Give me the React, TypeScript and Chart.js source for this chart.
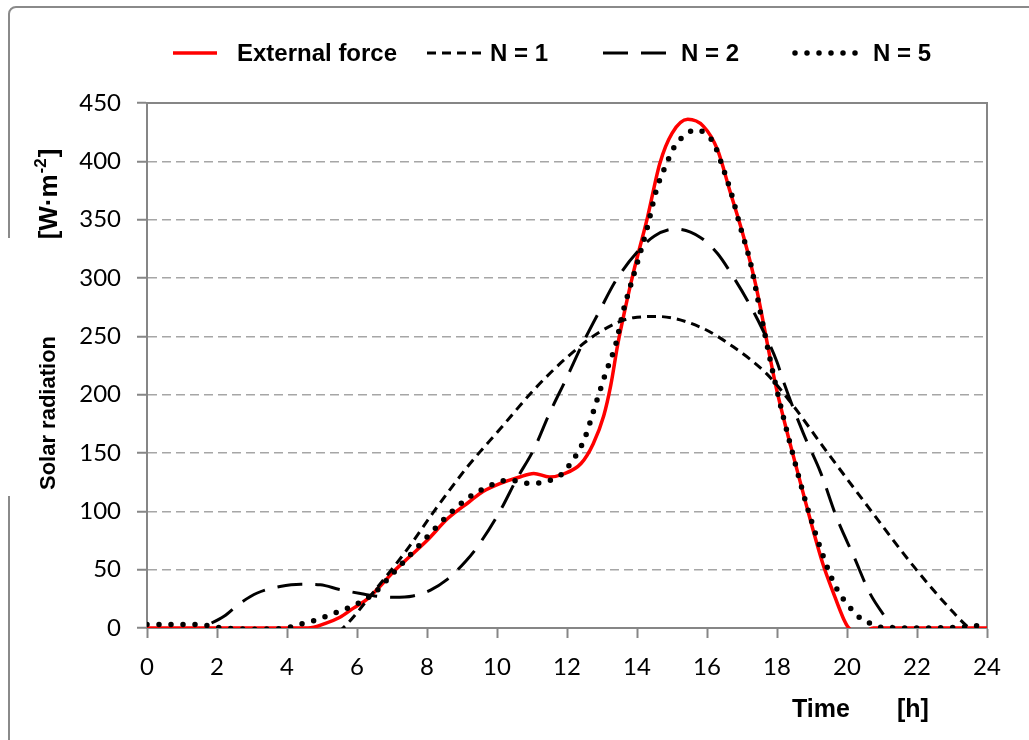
import React, { useEffect, useRef } from 'react';
import { Chart, registerables } from 'chart.js';

Chart.register(...registerables);

// ---- data ----
const seriesLabels = ['External force', 'N = 1', 'N = 2', 'N = 5'];
const xAxisTitle = 'Time';
const xAxisUnit = '[h]';
const yAxisTitle = 'Solar radiation';
const yAxisUnitMain = '[W·m';
const yAxisUnitSup = '-2';
const yAxisUnitEnd = ']';

const xMin = 0;
const xMax = 24;
const xStep = 2;
const yMin = 0;
const yMax = 450;
const yStep = 50;

const extTime = [0, 4.6, 5.1, 5.5, 5.9, 6.3, 6.7, 7.0, 7.5, 8.0, 8.6, 9.2, 9.6, 10.1, 10.6, 11.05, 11.5, 11.9, 12.4, 12.75, 13.05, 13.25, 13.45, 13.65, 13.9, 14.3, 14.65, 15.0, 15.45, 15.9, 16.3, 16.65, 17.05, 17.4, 17.8, 18.0, 18.4, 18.85, 19.3, 19.6, 19.9, 20.05, 20.4, 20.75, 24];
const extValue = [0, 0, 4, 9, 17, 25, 37, 47, 61, 75, 94, 108, 117, 124, 129, 132.5, 129.5, 132, 141, 158, 182, 208, 243, 272, 305, 352, 398, 424, 436, 430, 410, 375, 335, 293, 232, 203, 155, 104, 56, 31, 8, 0, -5, 0, 0];

const n1Time = [4, 5.6, 6.45, 7.45, 8.2, 9.15, 10.1, 11.05, 12, 12.95, 13.9, 14.6, 15.8, 16.75, 17.7, 18.35, 19.45, 20.75, 21.9, 23.05, 23.5, 24];
const n1Value = [-30, 0, 30, 68, 100, 138, 171, 204, 232, 254, 266, 267, 258, 241, 218, 195, 150, 98, 53, 13, 0, -6];

const n2Time = [0, 1.56, 2.2, 2.65, 3.15, 3.8, 4.4, 4.95, 5.5, 6.1, 6.5, 7.05, 7.6, 8.1, 8.55, 9.1, 9.45, 10.1, 10.55, 11.05, 11.5, 12, 12.45, 12.95, 13.4, 14, 14.5, 15.1, 15.8, 16.3, 16.75, 17.15, 17.6, 18, 18.2, 18.75, 19.25, 19.7, 20.2, 20.65, 21.15, 21.32, 22];
const n2Value = [-30, 0, 10, 21, 30, 35.5, 37.5, 37, 33, 29.5, 27.5, 26.3, 27.5, 32.5, 41, 57, 70, 101, 127, 153, 184, 215, 244, 273, 298, 322, 336, 342, 335, 321, 301, 281, 255, 228, 210, 167, 133, 95, 61, 30, 7, 0, -15];

const n5Time = [0, 1.5, 2, 3, 4, 4.2, 4.55, 4.9, 5.2, 5.55, 5.9, 6.2, 6.5, 7, 7.5, 8, 8.65, 9.2, 9.8, 10.35, 10.85, 11.25, 11.55, 11.9, 12.1, 12.3, 12.5, 12.8, 13.1, 13.4, 13.6, 13.75, 14, 14.3, 14.55, 14.8, 15.1, 15.4, 15.65, 15.95, 16.2, 16.45, 16.7, 16.95, 17.25, 17.45, 17.7, 17.95, 18.4, 18.85, 19.4, 19.7, 20.1, 20.4, 20.7, 21, 22, 23, 24];
const n5Value = [3, 3, 0.5, -1, 0, 2, 4.6, 7.5, 11, 15, 19, 24, 30, 46, 62, 78, 98, 112, 122, 127, 124, 124.5, 127, 133, 141, 150, 162, 190, 218, 244, 271, 287, 312, 344, 375, 395, 414, 423, 427, 424, 415, 395, 372, 344, 312, 282, 245, 210, 155, 105, 55, 34, 17, 8, 3.5, 0.5, 0, 0.5, 2.5];

// ---- styles ----
const RED = '#ff0000';
const BLACK = '#000000';
const AXIS_GRAY = '#868686';
const GRID_GRAY = '#a6a6a6';
const FRAME_GRAY = '#8a8a8a';
const TICK_FONT = 'Lato';
const BOLD_FONT = '"Liberation Sans", Arial, sans-serif';

const styles = [
  { color: RED, width: 3.5, dash: [] as number[], cap: 'butt' as CanvasLineCap },
  { color: BLACK, width: 3, dash: [9, 6], cap: 'butt' as CanvasLineCap },
  { color: BLACK, width: 3, dash: [25, 13], cap: 'butt' as CanvasLineCap },
  { color: BLACK, width: 5.5, dash: [0, 12], cap: 'round' as CanvasLineCap },
];

const toPoints = (t: number[], v: number[]) => t.map((x, i) => ({ x, y: v[i] }));

const decorPlugin = {
  id: 'decor',
  beforeDraw(chart: any) {
    const ctx = chart.ctx as CanvasRenderingContext2D;
    ctx.save();
    ctx.fillStyle = '#ffffff';
    ctx.fillRect(0, 0, chart.width, chart.height);
    // outer frame (left side interrupted as in the reference)
    ctx.strokeStyle = FRAME_GRAY;
    ctx.lineWidth = 2;
    ctx.beginPath();
    ctx.moveTo(9, 238);
    ctx.lineTo(9, 14);
    ctx.arcTo(9, 7, 16, 7, 7);
    ctx.lineTo(chart.width + 5, 7);
    ctx.moveTo(9, 496);
    ctx.lineTo(9, chart.height + 5);
    ctx.stroke();
    ctx.restore();
  },
  beforeDatasetsDraw(chart: any) {
    const ctx = chart.ctx as CanvasRenderingContext2D;
    const a = chart.chartArea;
    ctx.save();
    ctx.strokeStyle = AXIS_GRAY;
    ctx.lineWidth = 2;
    ctx.beginPath();
    ctx.moveTo(a.left, a.top);
    ctx.lineTo(a.right, a.top);
    ctx.lineTo(a.right, a.bottom);
    ctx.stroke();
    ctx.restore();
  },
  afterDraw(chart: any) {
    const ctx = chart.ctx as CanvasRenderingContext2D;
    ctx.save();
    // legend
    const legendY = 53;
    const items = [
      { x1: 173, x2: 217, tx: 237 },
      { x1: 427, x2: 482, tx: 490 },
      { x1: 603, x2: 672, tx: 681 },
      { x1: 795, x2: 860, tx: 873 },
    ];
    items.forEach((it, i) => {
      const s = styles[i];
      ctx.save();
      ctx.strokeStyle = s.color;
      ctx.lineWidth = s.width;
      ctx.lineCap = s.cap;
      ctx.setLineDash(s.dash);
      ctx.beginPath();
      ctx.moveTo(it.x1, legendY);
      ctx.lineTo(it.x2, legendY);
      ctx.stroke();
      ctx.restore();
      ctx.fillStyle = BLACK;
      ctx.font = `bold 24px ${BOLD_FONT}`;
      ctx.textAlign = 'left';
      ctx.textBaseline = 'middle';
      ctx.fillText(seriesLabels[i], it.tx, legendY + 1);
    });

    // x axis title
    ctx.fillStyle = BLACK;
    ctx.font = `bold 25px ${BOLD_FONT}`;
    ctx.textAlign = 'left';
    ctx.textBaseline = 'alphabetic';
    ctx.fillText(xAxisTitle, 792, 717);
    ctx.fillText(xAxisUnit, 897, 717);

    // y axis title
    ctx.save();
    ctx.translate(55, 413);
    ctx.rotate(-Math.PI / 2);
    ctx.font = `bold 22px ${BOLD_FONT}`;
    ctx.textAlign = 'center';
    ctx.fillText(yAxisTitle, 0, 0);
    ctx.restore();

    // y axis unit with superscript
    ctx.save();
    ctx.translate(57, 195);
    ctx.rotate(-Math.PI / 2);
    ctx.textAlign = 'left';
    ctx.font = `bold 26px ${BOLD_FONT}`;
    const w1 = ctx.measureText(yAxisUnitMain).width;
    const w3 = ctx.measureText(yAxisUnitEnd).width;
    ctx.font = `bold 17px ${BOLD_FONT}`;
    const w2 = ctx.measureText(yAxisUnitSup).width;
    const start = -(w1 + w2 + w3) / 2;
    ctx.font = `bold 26px ${BOLD_FONT}`;
    ctx.fillText(yAxisUnitMain, start, 0);
    ctx.font = `bold 17px ${BOLD_FONT}`;
    ctx.fillText(yAxisUnitSup, start + w1 + 1, -11);
    ctx.font = `bold 26px ${BOLD_FONT}`;
    ctx.fillText(yAxisUnitEnd, start + w1 + w2 + 2, 0);
    ctx.restore();

    ctx.restore();
  },
};

export default function App() {
  const ref = useRef<HTMLCanvasElement>(null);

  useEffect(() => {
    const canvas = ref.current;
    if (!canvas) return;
    const series = [
      toPoints(extTime, extValue),
      toPoints(n1Time, n1Value),
      toPoints(n2Time, n2Value),
      toPoints(n5Time, n5Value),
    ];
    const orders = [4, 3, 2, 1];
    const chart = new Chart(canvas, {
      type: 'line',
      data: {
        datasets: series.map((data, i) => ({
          label: seriesLabels[i],
          data,
          borderColor: styles[i].color,
          backgroundColor: styles[i].color,
          borderWidth: styles[i].width,
          borderDash: styles[i].dash,
          borderCapStyle: styles[i].cap,
          borderJoinStyle: 'round',
          pointRadius: 0,
          pointHoverRadius: 0,
          fill: false,
          cubicInterpolationMode: 'monotone',
          order: orders[i],
        })),
      },
      options: {
        animation: false,
        responsive: false,
        devicePixelRatio: 1,
        events: [],
        layout: { padding: { left: 0, top: 103, right: 42, bottom: 0 } },
        plugins: {
          legend: { display: false },
          tooltip: { enabled: false },
          title: { display: false },
        },
        scales: {
          x: {
            type: 'linear',
            min: xMin,
            max: xMax,
            afterFit: (s: any) => { s.height = 112; },
            ticks: {
              stepSize: xStep,
              color: BLACK,
              font: { family: TICK_FONT, size: 24 },
              padding: 15,
              maxRotation: 0,
              autoSkip: false,
            },
            grid: {
              drawOnChartArea: false,
              drawTicks: true,
              tickLength: 10,
              tickColor: AXIS_GRAY,
              tickWidth: 2,
            },
            border: { display: true, color: AXIS_GRAY, width: 2 },
          },
          y: {
            type: 'linear',
            min: yMin,
            max: yMax,
            afterFit: (s: any) => { s.width = 147; },
            ticks: {
              stepSize: yStep,
              color: BLACK,
              font: { family: TICK_FONT, size: 24 },
              padding: 16,
            },
            grid: {
              color: (c: any) => (c.tick && (c.tick.value === yMin || c.tick.value === yMax) ? 'rgba(0,0,0,0)' : GRID_GRAY),
              lineWidth: 1.5,
              drawTicks: true,
              tickLength: 10,
              tickColor: AXIS_GRAY,
              tickWidth: 2,
            },
            border: { display: true, color: AXIS_GRAY, width: 2, dash: [9, 5] },
          },
        },
      },
      plugins: [decorPlugin],
    } as any);
    return () => chart.destroy();
  }, []);

  return (
    <div style={{ position: 'fixed', left: 0, top: 0, width: 1029, height: 740, background: '#fff' }}>
      <canvas ref={ref} width={1029} height={740} style={{ display: 'block', width: 1029, height: 740 }} />
    </div>
  );
}
